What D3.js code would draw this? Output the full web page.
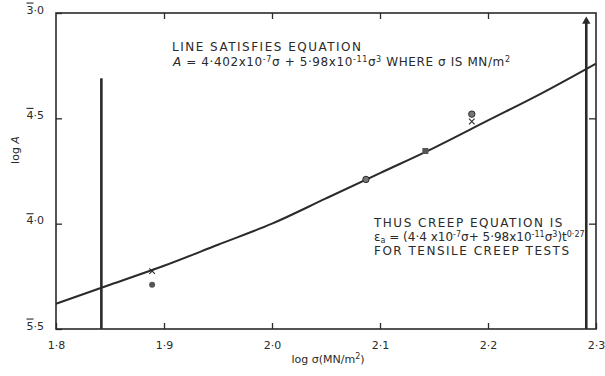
<!DOCTYPE html>
<html>
<head>
<meta charset="utf-8">
<script src="https://cdn.jsdelivr.net/npm/d3@7"></script>
<style>
  body { margin: 0; background: #fff; }
  svg text { font-family: "DejaVu Sans", sans-serif; fill: #2a2a2a; }
</style>
</head>
<body>
<div id="chart"></div>
<script>
// fitted line (log sigma vs log A)
const curveLogS = [1.80, 1.85, 1.90, 1.95, 2.00, 2.05, 2.10, 2.15, 2.20, 2.25, 2.30];
const curveLogA = [-4.38, -4.29, -4.20, -4.10, -4.00, -3.88, -3.76, -3.64, -3.51, -3.38, -3.24];

// test points
const crossPts  = [[1.889, -4.225], [2.185, -3.515]];
const dotPts    = [[1.889, -4.29]];
const ringPts   = [[2.087, -3.79], [2.185, -3.48]];
const squarePts = [[2.142, -3.655]];

// vertical limit bars: [log sigma, bottom, top]
const bars = [[1.842, -4.5, -3.31], [2.291, -4.5, -3.03]];

const xTicks = [1.8, 1.9, 2.0, 2.1, 2.2, 2.3];
const yTicks = [-4.5, -4.0, -3.5, -3.0];

/* write a text made of pieces: {t, sup, sub, it, bar} */
function rich(textSel, segs) {
  let cur = 0;
  segs.forEach(s => {
    const target = s.sup ? -4 : (s.sub ? 2 : 0);
    const ts = textSel.append("tspan")
      .attr("dy", target - cur)
      .text(s.t);
    if (s.sup || s.sub) ts.attr("font-size", "8px");
    if (s.it) ts.attr("font-style", "italic");
    if (s.bar) ts.style("text-decoration", "overline");
    cur = target;
  });
}

function draw_chart() {
  const width = 605, height = 376;
  const left = 56, right = 596, top = 13, bottom = 329;

  const svg = d3.select("#chart").append("svg")
    .attr("width", width)
    .attr("height", height);

  const x = d3.scaleLinear().domain([1.8, 2.3]).range([left, right]);
  const y = d3.scaleLinear().domain([-4.5, -3.0]).range([bottom, top]);

  const ink = "#2a2a2a";

  // axes (ticks point inward)
  const xAx = svg.append("g")
    .attr("transform", `translate(0,${bottom})`)
    .call(d3.axisBottom(x).tickValues(xTicks).tickSize(-6).tickPadding(12)
      .tickFormat(d => d.toFixed(1).replace(".", "\u00b7")));
  xAx.selectAll("text").style("font-size", "11px").attr("fill", ink);

  svg.append("g")
    .attr("transform", `translate(0,${top})`)
    .call(d3.axisTop(x).tickValues(xTicks.slice(1, -1)).tickSize(-6).tickFormat(""));

  const yAx = svg.append("g")
    .attr("transform", `translate(${left},0)`)
    .call(d3.axisLeft(y).tickValues(yTicks).tickSize(-6).tickPadding(12));

  // bar notation for negative logs, e.g. -3.5 -> 4bar.5
  yAx.selectAll("text")
    .style("font-size", "11px")
    .attr("fill", ink)
    .each(function(v) {
      const c = Math.floor(v + 1e-9);
      const m = Math.round((v - c) * 10);
      const t = d3.select(this).text(null);
      rich(t, [{t: `${-c}`, bar: true}, {t: `\u00b7${m}`}]);
    });

  svg.append("g")
    .attr("transform", `translate(${right},0)`)
    .call(d3.axisRight(y).tickValues(yTicks.slice(1, -1)).tickSize(-7).tickFormat(""));

  svg.selectAll(".domain").remove();
  svg.selectAll(".tick line").attr("stroke", ink).attr("stroke-width", 1.3);

  // frame
  svg.append("rect")
    .attr("x", left).attr("y", top)
    .attr("width", right - left).attr("height", bottom - top)
    .attr("fill", "none")
    .attr("stroke", ink)
    .attr("stroke-width", 1.6);

  // limit bars
  svg.selectAll("line.bar")
    .data(bars)
    .enter()
    .append("line")
    .attr("class", "bar")
    .attr("x1", d => x(d[0])).attr("x2", d => x(d[0]))
    .attr("y1", d => y(d[1])).attr("y2", d => y(d[2]))
    .attr("stroke", ink)
    .attr("stroke-width", 2.6);

  // arrow head on the right bar
  svg.append("path")
    .attr("d", d3.symbol(d3.symbolTriangle, 30)())
    .attr("transform", `translate(${x(bars[1][0])},${y(bars[1][2]) + 2})`)
    .attr("fill", ink);

  // fitted line
  const line = d3.line()
    .x((d, i) => x(curveLogS[i]))
    .y(d => y(d))
    .curve(d3.curveMonotoneX);

  svg.append("path")
    .datum(curveLogA)
    .attr("fill", "none")
    .attr("stroke", ink)
    .attr("stroke-width", 2)
    .attr("d", line);

  // markers
  svg.selectAll("path.cross")
    .data(crossPts).enter().append("path")
    .attr("class", "cross")
    .attr("d", d3.symbol(d3.symbolTimes, 22)())
    .attr("transform", d => `translate(${x(d[0])},${y(d[1])})`)
    .attr("fill", "none")
    .attr("stroke", ink)
    .attr("stroke-width", 1.1);

  svg.selectAll("circle.dot")
    .data(dotPts).enter().append("circle")
    .attr("class", "dot")
    .attr("cx", d => x(d[0])).attr("cy", d => y(d[1]))
    .attr("r", 3)
    .attr("fill", "#555");

  svg.selectAll("circle.ring")
    .data(ringPts).enter().append("circle")
    .attr("class", "ring")
    .attr("cx", d => x(d[0])).attr("cy", d => y(d[1]))
    .attr("r", 3.2)
    .attr("fill", "#777")
    .attr("stroke", ink)
    .attr("stroke-width", 1);

  svg.selectAll("rect.sq")
    .data(squarePts).enter().append("rect")
    .attr("class", "sq")
    .attr("x", d => x(d[0]) - 3).attr("y", d => y(d[1]) - 3)
    .attr("width", 6).attr("height", 6)
    .attr("fill", "#555");

  // axis titles
  const xt = svg.append("text")
    .attr("x", 328).attr("y", 363)
    .attr("text-anchor", "middle")
    .style("font-size", "11px");
  rich(xt, [{t: "log \u03c3(MN/m"}, {t: "2", sup: true}, {t: ")"}]);

  const yt = svg.append("text")
    .attr("transform", "translate(19,150) rotate(-90)")
    .attr("text-anchor", "middle")
    .style("font-size", "11px");
  rich(yt, [{t: "log "}, {t: "A", it: true}]);

  // annotations
  const note = (tx, ty, ls, segs) => {
    const t = svg.append("text")
      .attr("x", tx).attr("y", ty)
      .style("font-size", "12px")
      .style("letter-spacing", ls);
    rich(t, segs);
  };

  note(172, 51, "1.5px", [{t: "LINE SATISFIES EQUATION"}]);
  note(173, 66, "0.6px", [
    {t: "A", it: true}, {t: " = 4·402x10"}, {t: "-7", sup: true}, {t: "\u03c3 + 5·98x10"},
    {t: "-11", sup: true}, {t: "\u03c3"}, {t: "3", sup: true},
    {t: " WHERE \u03c3 IS MN/m"}, {t: "2", sup: true}
  ]);

  note(374, 227, "1.5px", [{t: "THUS CREEP EQUATION IS"}]);
  note(374, 241, "0px", [
    {t: "\u03b5"}, {t: "a", sub: true}, {t: " = (4·4 x10"}, {t: "-7", sup: true},
    {t: "\u03c3+ 5·98x10"}, {t: "-11", sup: true}, {t: "\u03c3"}, {t: "3", sup: true},
    {t: ")t"}, {t: "0·27", sup: true}
  ]);
  note(374, 255, "1.5px", [{t: "FOR TENSILE CREEP TESTS"}]);
}

draw_chart();
</script>
</body>
</html>
